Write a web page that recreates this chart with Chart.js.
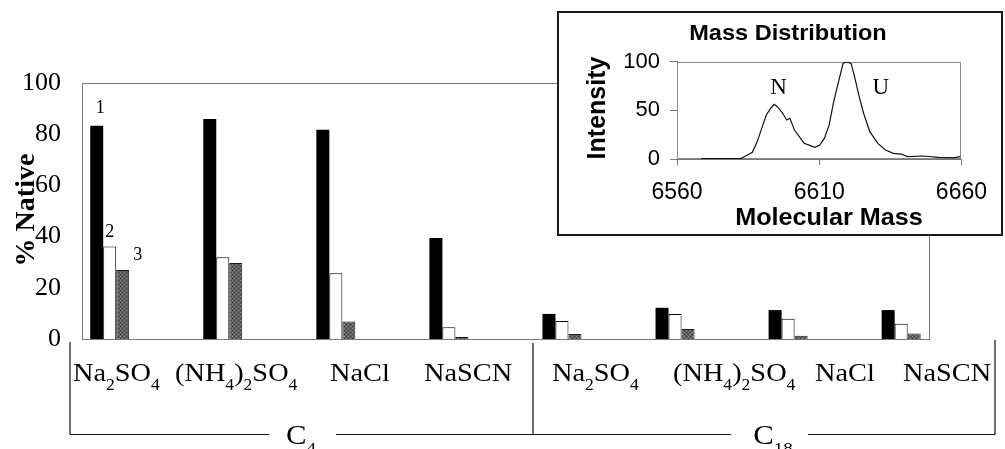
<!DOCTYPE html>
<html><head><meta charset="utf-8">
<script src="https://cdn.jsdelivr.net/npm/chart.js@4.4.1/dist/chart.umd.min.js"></script>
<style>
html,body{margin:0;padding:0;background:#fff;}
#wrap{position:relative;width:1005px;height:449px;overflow:hidden;background:#fff;}
#main{position:absolute;left:0;top:0;}
#inset{position:absolute;left:557px;top:11px;width:442px;height:221px;border:2px solid #1a1a1a;background:#fff;}
#insetCanvas{position:absolute;left:0;top:0;}
</style></head><body>
<div id="wrap">
<canvas id="main" width="1005" height="449"></canvas>
<div id="inset"><canvas id="insetCanvas" width="442" height="221"></canvas></div>
</div>
<script>
// ---------- data ----------
const categories = ['Na_2SO_4', '(NH_4)_2SO_4', 'NaCl', 'NaSCN', 'Na_2SO_4', '(NH_4)_2SO_4', 'NaCl', 'NaSCN'];
const columnGroups = ['C_4', 'C_18'];
const series1 = [83.3, 85.9, 81.7, 39.5, 9.8, 12.2, 11.3, 11.3];
const series2 = [36.1, 31.9, 25.7, 4.6, 7.0, 9.8, 7.9, 6.0];
const series3 = [27.0, 29.7, 6.8, 0.8, 2.0, 3.9, 1.3, 2.1];
const seriesNames = ['1', '2', '3'];
const yTicks = [0, 20, 40, 60, 80, 100];

const massX = [6568.5, 6582.6, 6584.3, 6586.5, 6588.1, 6589.8, 6591.4, 6593.1, 6594.2, 6595.3, 6596.9, 6598.6, 6599.7, 6601.3, 6603.0, 6604.7, 6606.9, 6608.5, 6610.2, 6611.8, 6613.5, 6615.1, 6616.8, 6618.4, 6619.5, 6621.2, 6622.3, 6623.9, 6625.6, 6627.8, 6630.6, 6633.3, 6636.1, 6638.8, 6641.0, 6646.6, 6652.0, 6657.6, 6659.6];
const massY = [0.3, 0.7, 3.4, 6.9, 17.1, 31.5, 45.2, 52.7, 56.2, 53.8, 48.0, 40.1, 41.8, 29.8, 22.9, 16.1, 13.7, 12.0, 14.4, 21.2, 35.0, 58.9, 79.5, 98.3, 100, 98.3, 86.3, 65.8, 47.0, 28.1, 16.1, 9.2, 5.8, 5.1, 2.4, 3.1, 1.7, 1.4, 2.4];
const massXTicks = [6560, 6610, 6660];
const massYTicks = [0, 50, 100];
const peakNames = ['N', 'U'];
const peakLabelX = [6595.7, 6631.7];
const peakLabelY = [73, 73];

// ---------- layout (not data) ----------
const SERIF = "'Liberation Serif','Times New Roman',serif";
const SANS = "'Liberation Sans',Arial,Helvetica,sans-serif";
const labelLeft = [73, 175, 330, 424, 552, 673, 815, 903];
const groupCenter = [301, 773];

Chart.defaults.devicePixelRatio = 1;
Chart.defaults.animation = false;

function parseRich(str) {
  const parts = []; let i = 0;
  while (i < str.length) {
    if (str[i] === '_') {
      let j = i + 1, s = '';
      while (j < str.length && /[0-9]/.test(str[j])) { s += str[j]; j++; }
      parts.push({ t: s, sub: true }); i = j;
    } else {
      let j = i, s = '';
      while (j < str.length && str[j] !== '_') { s += str[j]; j++; }
      parts.push({ t: s, sub: false }); i = j;
    }
  }
  return parts;
}
function drawRich(ctx, str, x, y, size, sx, align, family) {
  const parts = parseRich(str);
  const subSize = size * 0.62;
  let total = 0;
  parts.forEach(p => {
    ctx.font = (p.sub ? subSize : size) + 'px ' + family;
    p.w = ctx.measureText(p.t).width; total += p.w;
  });
  ctx.save();
  ctx.translate(x, y);
  ctx.scale(sx, 1);
  let cx = align === 'center' ? -total / 2 : 0;
  ctx.textAlign = 'left'; ctx.textBaseline = 'alphabetic'; ctx.fillStyle = '#000';
  parts.forEach(p => {
    ctx.font = (p.sub ? subSize : size) + 'px ' + family;
    ctx.fillText(p.t, cx, p.sub ? size * 0.36 : 0);
    cx += p.w;
  });
  ctx.restore();
  return total * sx;
}
function drawText(ctx, txt, x, y, font, sx, align, rot) {
  ctx.save();
  ctx.translate(x, y);
  if (rot) ctx.rotate(rot);
  ctx.scale(sx, 1);
  ctx.font = font; ctx.fillStyle = '#000';
  ctx.textAlign = align || 'center'; ctx.textBaseline = 'alphabetic';
  ctx.fillText(txt, 0, 0);
  ctx.restore();
}

// gray stipple pattern
function makePattern() {
  const c = document.createElement('canvas'); c.width = 4; c.height = 4;
  const g = c.getContext('2d');
  g.fillStyle = '#606060'; g.fillRect(0, 0, 4, 4);
  g.fillStyle = '#909090'; g.fillRect(0, 0, 1, 1); g.fillRect(2, 2, 1, 1);
  g.fillStyle = '#383838'; g.fillRect(2, 0, 1, 1); g.fillRect(0, 2, 1, 1);
  return document.getElementById('main').getContext('2d').createPattern(c, 'repeat');
}

const toXY = arr => arr.map((v, i) => ({ x: i, y: v }));

const mainDecor = {
  id: 'mainDecor',
  beforeDatasetsDraw(chart) {
    const { ctx, chartArea: a } = chart;
    ctx.save();
    ctx.strokeStyle = '#7a7a7a'; ctx.lineWidth = 1;
    ctx.strokeRect(Math.round(a.left) + 0.5, Math.round(a.top) + 0.5, Math.round(a.right - a.left) - 1, Math.round(a.bottom - a.top));
    ctx.restore();
  },
  afterDraw(chart) {
    const { ctx } = chart;
    // y title
    drawText(ctx, '% Native', 34, 210, 'bold 28px ' + SERIF, 1, 'center', -Math.PI / 2);
    // series number labels on first group
    const offs = [[3.5, -13], [0, -10], [15, -10]];
    for (let d = 0; d < 3; d++) {
      const el = chart.getDatasetMeta(d).data[0];
      drawText(ctx, seriesNames[d], el.x + offs[d][0], el.y + offs[d][1], '18px ' + SERIF, 1, 'center');
    }
    // category labels
    categories.forEach((c, i) => drawRich(ctx, c, labelLeft[i], 381, 26, 1.09, 'left', SERIF));
    // frame
    ctx.save();
    ctx.strokeStyle = '#111'; ctx.lineWidth = 1.2;
    ctx.beginPath();
    ctx.moveTo(70, 342); ctx.lineTo(70, 434.5);
    ctx.moveTo(533, 343); ctx.lineTo(533, 434.5);
    ctx.moveTo(995, 340); ctx.lineTo(995, 434.5);
    ctx.moveTo(70, 434.5); ctx.lineTo(269, 434.5);
    ctx.moveTo(336, 434.5); ctx.lineTo(731, 434.5);
    ctx.moveTo(808, 434.5); ctx.lineTo(995, 434.5);
    ctx.stroke();
    ctx.restore();
    columnGroups.forEach((g, i) => drawRich(ctx, g, groupCenter[i], 444, 28, 1.1, 'center', SERIF));
  }
};

const pattern = makePattern();
new Chart(document.getElementById('main'), {
  type: 'bar',
  data: {
    datasets: [
      { label: seriesNames[0], data: toXY(series1), backgroundColor: '#000', borderColor: '#000', borderWidth: 0 },
      { label: seriesNames[1], data: toXY(series2), backgroundColor: '#fff', borderColor: '#000', borderWidth: 1 },
      { label: seriesNames[2], data: toXY(series3), backgroundColor: pattern, borderColor: '#1a1a1a', borderWidth: 1 }
    ]
  },
  options: {
    responsive: false,
    animation: false,
    layout: { padding: { left: 0, right: 75, top: 83, bottom: 110 } },
    datasets: { bar: { categoryPercentage: 0.345, barPercentage: 1.0, borderSkipped: 'start' } },
    plugins: { legend: { display: false }, tooltip: { enabled: false }, title: { display: false } },
    scales: {
      x: { type: 'linear', min: -0.245, max: 7.255, offset: false, display: false },
      y: {
        min: 0, max: 100,
        afterFit(s) { s.width = 82; },
        afterBuildTicks(s) { s.ticks = yTicks.map(v => ({ value: v })); },
        ticks: { color: '#000', font: { family: SERIF, size: 26 }, padding: 21 },
        grid: { display: false, drawTicks: false },
        border: { display: false }
      }
    }
  },
  plugins: [mainDecor]
});

// ---------- inset ----------
const insetDecor = {
  id: 'insetDecor',
  beforeDatasetsDraw(chart) {
    const { ctx, chartArea: a } = chart;
    ctx.save();
    ctx.strokeStyle = '#8a8a8a'; ctx.lineWidth = 1;
    ctx.strokeRect(Math.round(a.left) + 0.5, Math.round(a.top) + 0.5, Math.round(a.right - a.left) - 1, Math.round(a.bottom - a.top) - 1);
    ctx.restore();
  },
  afterDraw(chart) {
    const { ctx } = chart;
    drawText(ctx, 'Mass Distribution', 229, 27, 'bold 22px ' + SANS, 1.07, 'center');
    drawText(ctx, 'Intensity', 46, 95, 'bold 25px ' + SANS, 1, 'center', -Math.PI / 2);
    drawText(ctx, 'Molecular Mass', 270, 212, 'bold 24px ' + SANS, 1.05, 'center');
    const xs = chart.scales.x, ys = chart.scales.y;
    peakNames.forEach((n, i) => {
      ctx.save();
      ctx.font = '23px ' + SERIF; ctx.fillStyle = '#000';
      ctx.textAlign = 'center'; ctx.textBaseline = 'middle';
      ctx.fillText(n, xs.getPixelForValue(peakLabelX[i]), ys.getPixelForValue(peakLabelY[i]));
      ctx.restore();
    });
  }
};

new Chart(document.getElementById('insetCanvas'), {
  type: 'line',
  data: {
    datasets: [{
      data: massX.map((x, i) => ({ x: x, y: massY[i] })),
      borderColor: '#111', borderWidth: 1.2, pointRadius: 0, tension: 0, fill: false
    }]
  },
  options: {
    responsive: false,
    animation: false,
    layout: { padding: { left: 0, right: 21.7, top: 48.7, bottom: 0 } },
    plugins: { legend: { display: false }, tooltip: { enabled: false } },
    scales: {
      x: {
        type: 'linear', min: 6560, max: 6660,
        afterFit(s) { s.height = 75; },
        afterBuildTicks(s) { s.ticks = massXTicks.map(v => ({ value: v })); },
        ticks: { color: '#000', font: { family: SANS, size: 23 }, padding: 14, maxRotation: 0, autoSkip: false, callback: v => String(v) },
        grid: { drawOnChartArea: false, drawTicks: true, tickLength: 6, color: '#777' },
        border: { display: true, color: '#777' }
      },
      y: {
        min: 0, max: 100,
        afterFit(s) { s.width = 118; },
        afterBuildTicks(s) { s.ticks = massYTicks.map(v => ({ value: v })); },
        ticks: { color: '#000', font: { family: SANS, size: 22 }, padding: 10, callback: v => String(v) },
        grid: { drawOnChartArea: false, drawTicks: true, tickLength: 7, color: '#777' },
        border: { display: true, color: '#777' }
      }
    }
  },
  plugins: [insetDecor]
});
</script>
</body></html>
